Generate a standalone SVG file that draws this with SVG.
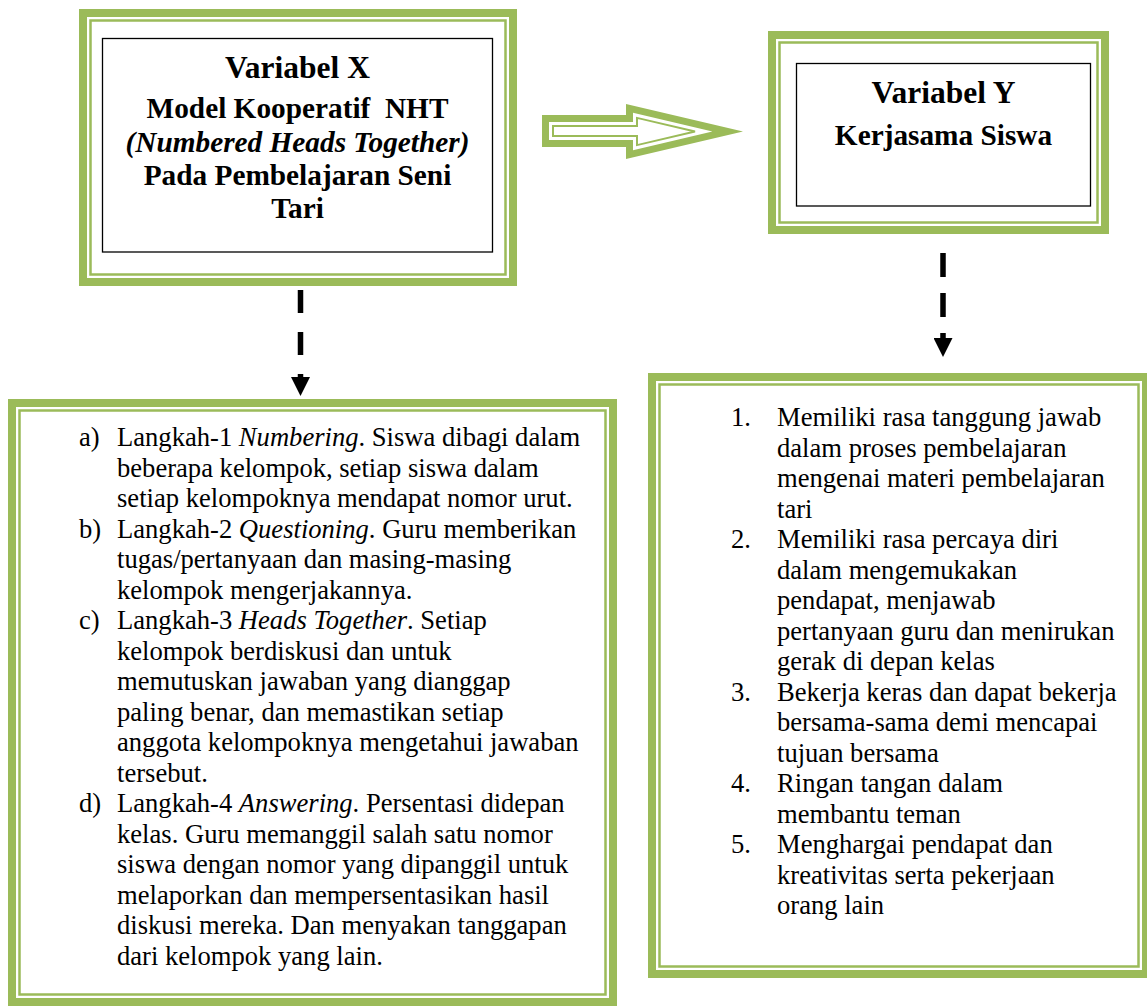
<svg xmlns="http://www.w3.org/2000/svg" width="1147" height="1007" viewBox="0 0 1147 1007">
<defs>
<style>
.thick{fill:none;stroke:#9BBB59;stroke-width:8}
.thin{fill:none;stroke:#9BBB59;stroke-width:2.5}
.inner{fill:none;stroke:#000;stroke-width:1.3}
.ttl{font-family:"Liberation Serif","Times New Roman",serif;font-weight:bold;text-anchor:middle;fill:#000}
.big{font-size:31.5px}
.sub{font-size:29.3px}
.body{font-family:"Liberation Serif","Times New Roman",serif;font-size:26.6px;fill:#000}
.it{font-style:italic}
.dash{fill:none;stroke:#000;stroke-width:5.5}
</style>
<marker id="ah" markerUnits="userSpaceOnUse" viewBox="0 0 19 19" markerWidth="19" markerHeight="19" refX="0" refY="9.5" orient="auto">
<path d="M0,0 L19,9.5 L0,19 Z" fill="#000"/>
</marker>
</defs>
<rect width="1147" height="1007" fill="#fff"/>

<g id="nodeX">
<rect class="thick" x="83" y="13" width="430" height="269"/>
<rect class="thin" x="90.5" y="20.5" width="415" height="254"/>
<rect class="inner" x="102.5" y="38.5" width="390" height="213.5"/>
<text class="ttl big" x="297.5" y="78">Variabel X</text>
<text class="ttl sub" x="297.5" y="117.5" xml:space="preserve">Model Kooperatif  NHT</text>
<text class="ttl sub" x="297.5" y="151.5" font-style="italic">(Numbered Heads Together)</text>
<text class="ttl sub" x="297.5" y="184.5">Pada Pembelajaran Seni</text>
<text class="ttl sub" x="297.5" y="218">Tari</text>
</g>

<g id="nodeY">
<rect class="thick" x="772" y="35" width="333" height="195"/>
<rect class="thin" x="779.5" y="42.5" width="318" height="180"/>
<rect class="inner" x="796.5" y="63.5" width="294" height="142.5"/>
<text class="ttl big" x="943.5" y="103">Variabel Y</text>
<text class="ttl sub" x="943.5" y="145">Kerjasama Siswa</text>
</g>

<g id="nodeSteps">
<rect class="thick" x="12" y="403" width="601" height="599"/>
<rect class="thin" x="19.5" y="410.5" width="586" height="584"/>
<g class="body">
<text x="79" y="446">a)</text>
<text x="117" y="446">Langkah-1 <tspan class="it">Numbering</tspan>. Siswa dibagi dalam</text>
<text x="117" y="476.5">beberapa kelompok, setiap siswa dalam</text>
<text x="117" y="507">setiap kelompoknya mendapat nomor urut.</text>
<text x="79" y="537.5">b)</text>
<text x="117" y="537.5">Langkah-2 <tspan class="it">Questioning</tspan>. Guru memberikan</text>
<text x="117" y="568">tugas/pertanyaan dan masing-masing</text>
<text x="117" y="598.5">kelompok mengerjakannya.</text>
<text x="79" y="629">c)</text>
<text x="117" y="629">Langkah-3 <tspan class="it">Heads Together</tspan>. Setiap</text>
<text x="117" y="659.5">kelompok berdiskusi dan untuk</text>
<text x="117" y="690">memutuskan jawaban yang dianggap</text>
<text x="117" y="720.5">paling benar, dan memastikan setiap</text>
<text x="117" y="751">anggota kelompoknya mengetahui jawaban</text>
<text x="117" y="781.5">tersebut.</text>
<text x="79" y="812">d)</text>
<text x="117" y="812">Langkah-4 <tspan class="it">Answering</tspan>. Persentasi didepan</text>
<text x="117" y="842.5">kelas. Guru memanggil salah satu nomor</text>
<text x="117" y="873">siswa dengan nomor yang dipanggil untuk</text>
<text x="117" y="903.5">melaporkan dan mempersentasikan hasil</text>
<text x="117" y="934">diskusi mereka. Dan menyakan tanggapan</text>
<text x="117" y="964.5">dari kelompok yang lain.</text>
</g>
</g>

<g id="nodeIndicators">
<rect class="thick" x="652" y="377" width="494" height="597"/>
<rect class="thin" x="659.5" y="384.5" width="479" height="582"/>
<g class="body">
<text x="731" y="426">1.</text>
<text x="777" y="426">Memiliki rasa tanggung jawab</text>
<text x="777" y="456.5">dalam proses pembelajaran</text>
<text x="777" y="487">mengenai materi pembelajaran</text>
<text x="777" y="517.5">tari</text>
<text x="731" y="548">2.</text>
<text x="777" y="548">Memiliki rasa percaya diri</text>
<text x="777" y="578.5">dalam mengemukakan</text>
<text x="777" y="609">pendapat, menjawab</text>
<text x="777" y="639.5">pertanyaan guru dan menirukan</text>
<text x="777" y="670">gerak di depan kelas</text>
<text x="731" y="700.5">3.</text>
<text x="777" y="700.5">Bekerja keras dan dapat bekerja</text>
<text x="777" y="731">bersama-sama demi mencapai</text>
<text x="777" y="761.5">tujuan bersama</text>
<text x="731" y="792">4.</text>
<text x="777" y="792">Ringan tangan dalam</text>
<text x="777" y="822.5">membantu teman</text>
<text x="731" y="853">5.</text>
<text x="777" y="853">Menghargai pendapat dan</text>
<text x="777" y="883.5">kreativitas serta pekerjaan</text>
<text x="777" y="914">orang lain</text>
</g>
</g>

<g id="connectors">
<g id="bigArrow">
<polygon points="542,115 626,115 626,104 743,131.5 626,159 626,147 542,147" fill="#9BBB59"/>
<polygon points="549,122 633,122 633,112.8 712.4,131.5 633,150.2 633,140 549,140" fill="#fff"/>
<polygon points="553,126 637,126 637,117.9 695,131.5 637,145.1 637,136 553,136" fill="#fff" stroke="#9BBB59" stroke-width="2"/>
</g>
<line class="dash" x1="300.5" y1="290" x2="300.5" y2="377" stroke-dasharray="23 19" marker-end="url(#ah)"/>
<line class="dash" x1="943" y1="253" x2="943" y2="338" stroke-dasharray="24 16" marker-end="url(#ah)"/>
</g>
</svg>
